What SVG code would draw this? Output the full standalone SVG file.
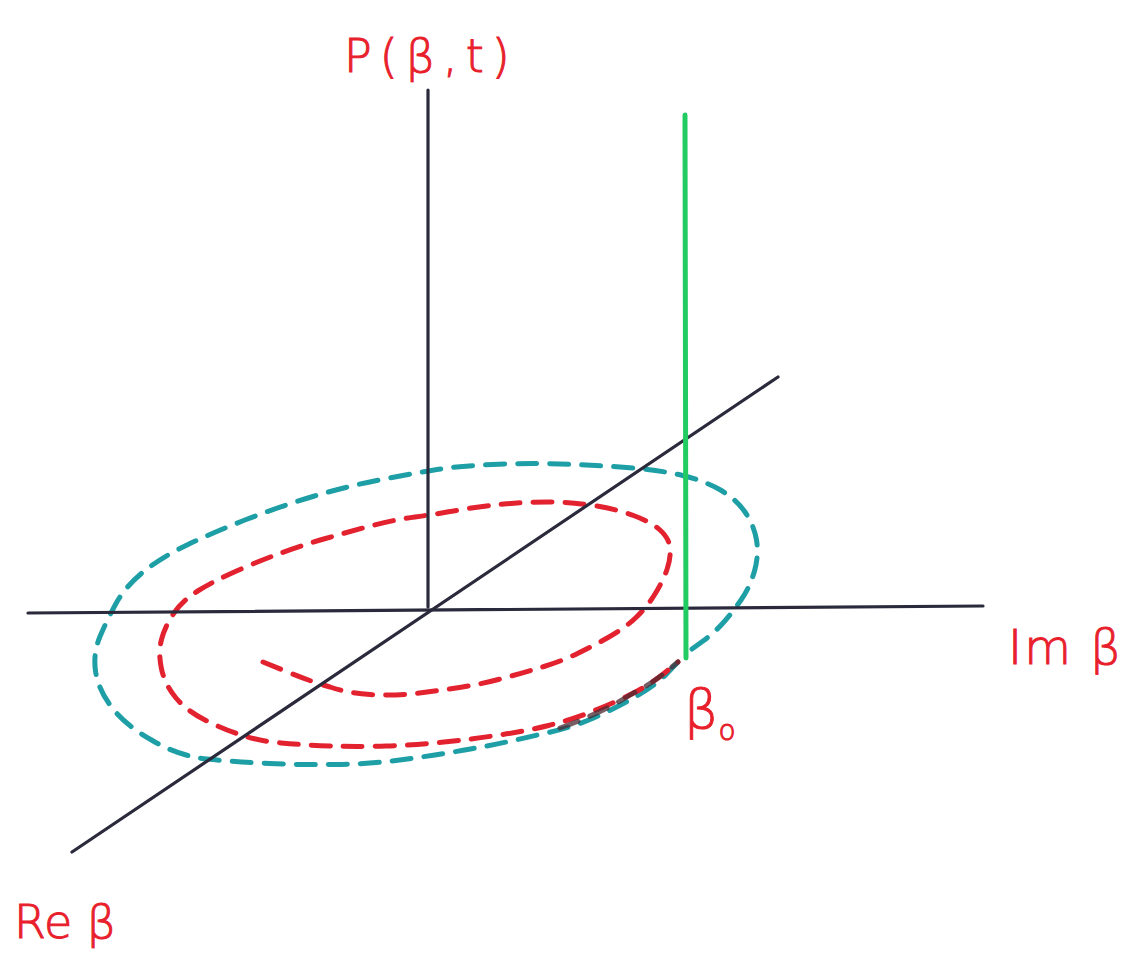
<svg xmlns="http://www.w3.org/2000/svg" width="1136" height="961" viewBox="0 0 1136 961">
<style>
.axis{stroke:#2a2a3c;stroke-width:3.2;stroke-linecap:round;fill:none}
.dash{fill:none;stroke-width:5;stroke-linecap:round;stroke-linejoin:round;stroke-dasharray:19 13}
.red{stroke:#e3222f}
.cyan{stroke:#1e9fa6}
.lbl{fill:#e8202c;stroke:#e8202c;stroke-width:1;font-family:"DejaVu Sans","Liberation Sans",sans-serif;font-weight:300}
</style>
<rect width="1136" height="961" fill="#ffffff"/>
<g id="connectors">
<path id="cyan-ellipse" class="dash cyan" d="M692,649 L703,641 Q714,633 723,623 Q732,613 741,600 Q750,587 754.5,571 Q759,555 756.5,540 Q754,525 745,512 Q736,499 720.5,490 Q705,481 682.5,475.5 Q660,470 626.5,467.5 Q593,465 559.5,464 Q526,463 492.5,464.5 Q459,466 437,469.5 Q415,473 381.5,479.5 Q348,486 314.5,496 Q281,506 247.5,519 Q214,532 187,545 Q160,558 142.5,572.5 Q125,587 116,603.5 Q107,620 100,636.5 Q93,653 95.5,671 Q98,689 111.5,707 Q125,725 151.5,740 Q178,756 207,759 Q236,762 269.5,763.5 Q303,765 336.5,764.5 Q370,764 403.5,759.5 Q437,755 470.5,749 Q504,743 537.5,735 Q571,728 593.5,718 Q616,708 636,696.5 Q656,685 667,673.5 L678,662"/>
<path id="red-spiral" class="dash red" d="M263,662 L287.5,672 Q312,682 330,687 Q348,693 370,694.5 Q392,696 414.5,693.5 Q437,691 459.5,687.5 Q482,684 504,678 Q526,672 544,666.5 Q562,661 577.5,653.5 Q593,646 609,637 Q625,628 636,617.5 Q647,607 655,594 Q663,581 667,569.5 Q671,558 670,548 Q669,538 660,530 Q651,522 633.5,515.5 Q616,509 593.5,505.5 Q571,502 548.5,502 Q526,502 504,504 Q482,506 459.5,510 Q437,514 415,517 Q393,520 370.5,526 Q348,532 325.5,538.5 Q303,545 281,553 Q259,561 236.5,571 Q214,581 198.5,590.5 Q183,600 174,613 Q165,626 161.5,639.5 Q158,653 161.5,669 Q165,685 176,698 Q187,711 205,720 Q223,729 241,735 Q259,741 281,743 Q303,745 330,746 Q357,747 386,746 Q415,745 444,742 Q473,739 499.5,735 Q526,731 548.5,725.5 Q571,720 593.5,711 Q616,702 633.5,693 Q651,684 664.5,673 L678,662"/>
<path id="overlap" d="M560,728 Q600,714 633.5,693 Q651,684 664.5,673 L678,662" fill="none" stroke="#4a2a32" stroke-width="5" stroke-linecap="round" stroke-dasharray="19 13" opacity="0.75"/>
</g>
<g id="axes">
<line id="axis-p" class="axis" x1="428" y1="90" x2="428" y2="607"/>
<line id="axis-im" class="axis" x1="28" y1="613" x2="983" y2="606"/>
<line id="axis-re" class="axis" x1="72" y1="852" x2="778" y2="377"/>
</g>
<g id="beta0-line">
<line x1="685" y1="115" x2="686" y2="658" stroke="#22cc62" stroke-width="5" stroke-linecap="round"/>
</g>
<g id="labels">
<text id="label-p" class="lbl" x="344" y="72" font-size="46" letter-spacing="8">P(β,t)</text>
<text id="label-im" class="lbl" x="1008" y="664" font-size="48" letter-spacing="2">Im β</text>
<text id="label-re" class="lbl" x="14" y="938" font-size="46">Re β</text>
<text id="label-beta0" class="lbl" x="684" y="728" font-size="54">β<tspan font-size="28" dy="12">o</tspan></text>
</g>
</svg>
